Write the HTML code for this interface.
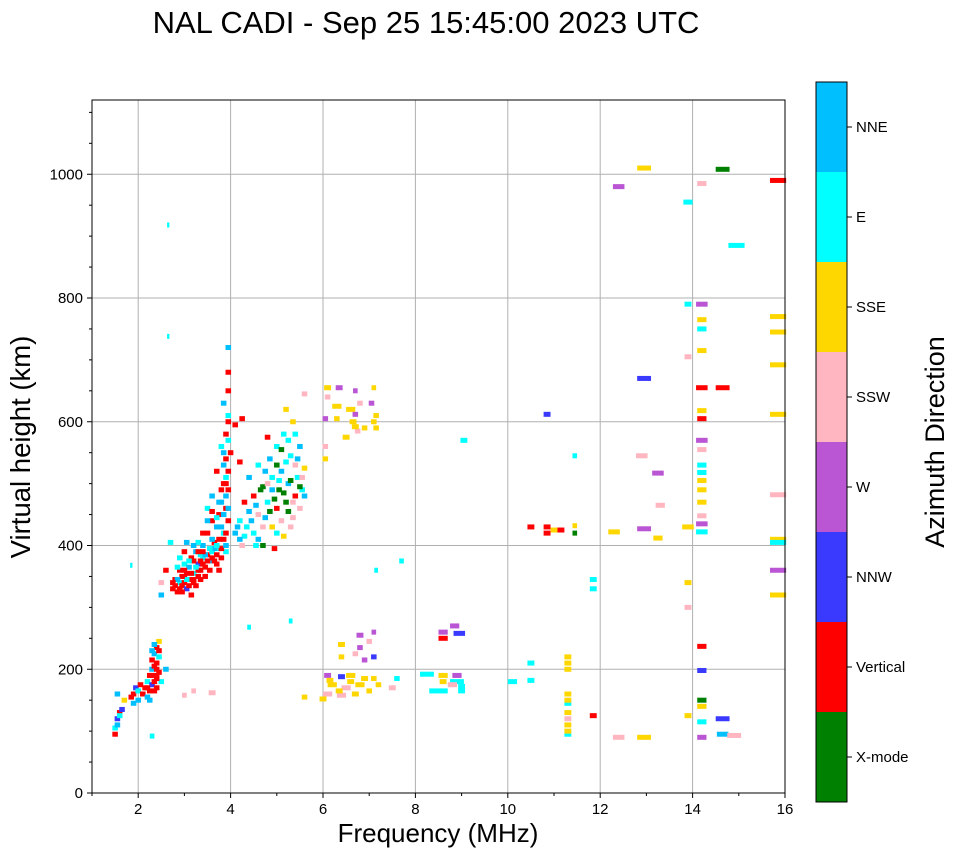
<!DOCTYPE html>
<html><head><meta charset="utf-8"><style>
body{margin:0;background:#fff;font-family:"Liberation Sans",sans-serif}
</style></head><body>
<svg id="chart" width="958" height="857" xmlns="http://www.w3.org/2000/svg" font-family="Liberation Sans, sans-serif">
<text x="426" y="33" font-size="31" text-anchor="middle">NAL CADI - Sep 25 15:45:00 2023 UTC</text>
<g id="grid"></g>
<g id="marks"></g>
<rect x="92" y="100" width="693" height="693" fill="none" stroke="#000" stroke-width="1"/>
<g id="ticks" font-size="15"></g>
<text x="438" y="842" font-size="26" text-anchor="middle">Frequency (MHz)</text>
<text transform="translate(30,447) rotate(-90)" font-size="27.5" text-anchor="middle">Virtual height (km)</text>
<g id="cbar" font-size="15"></g>
<text transform="translate(944,442) rotate(-90)" font-size="27" text-anchor="middle">Azimuth Direction</text>
</svg>
<script>
const dirLabels=["X-mode","Vertical","NNW","W","SSW","SSE","E","NNE"];
const dirColors=["#008000","#ff0000","#3a3aff","#ba55d3","#ffb6c1","#ffd700","#00ffff","#00bfff"];
const xTicks=[2,4,6,8,10,12,14,16];
const yTicks=[0,200,400,600,800,1000];
const lowTrace=[[1.5,95,1],[1.5,105,6],[1.55,120,2],[1.6,130,1],[1.65,135,2],[1.55,160,7],[1.7,150,5],[1.9,145,7],[1.9,160,1],[1.95,170,2],[2.0,165,6],[2.05,175,1],[2.1,160,1],[2.15,170,1],[2.2,155,7],[2.2,180,6],[2.25,190,1],[2.3,200,7],[2.3,215,1],[2.35,225,7],[2.4,235,1],[2.4,210,1],[2.3,175,2],[2.35,165,1],[2.25,150,7],[2.45,245,5],[2.45,195,1],[2.2,170,1],[2.5,180,6],[2.6,200,7],[2.4,185,1],[2.35,205,1],[2.45,220,6],[2.4,190,1],[2.3,190,1],[2.35,180,1],[2.4,200,1],[2.3,230,7],[2.4,170,1],[2.25,165,1],[2.35,240,7],[2.45,230,1],[1.55,110,7],[1.6,125,6],[1.85,155,1],[2.0,150,7]];
const fTrace=[[2.5,320,7],[2.5,340,4],[2.6,360,1],[2.75,330,1],[2.8,345,1],[2.85,325,1],[2.9,340,6],[2.9,360,1],[2.95,335,1],[3.0,350,1],[3.0,370,6],[3.05,330,2],[3.1,345,1],[3.1,365,7],[3.15,380,1],[3.2,340,1],[3.2,355,6],[3.25,390,7],[3.3,350,1],[3.3,370,2],[3.35,360,1],[3.4,380,6],[3.4,400,7],[3.45,365,1],[3.5,385,1],[3.5,420,1],[3.55,375,7],[3.6,390,6],[3.6,440,1],[3.65,405,1],[3.7,370,1],[3.7,430,7],[3.75,450,1],[3.75,395,6],[3.8,470,7],[3.8,380,1],[3.85,500,1],[3.85,420,6],[3.9,540,1],[3.9,390,6],[3.9,480,7],[3.95,520,1],[3.95,570,6],[3.95,600,1],[3.85,630,7],[3.95,680,1],[3.95,720,7],[3.7,520,1],[3.6,480,7],[3.5,460,6],[3.4,420,1],[3.3,405,6],[3.2,400,7],[3.0,390,1],[2.9,380,6],[3.05,405,7],[3.15,320,1],[2.7,405,6],[4.0,550,1],[3.8,560,6],[3.9,460,1],[2.85,365,6],[2.95,325,1],[3.25,335,1],[3.45,350,1],[3.65,375,1],[3.85,410,1],[3.95,440,1],[3.05,355,1],[3.35,385,6],[3.75,360,1]];
const fDense=[[2.8,335,1],[2.9,330,1],[3.0,340,1],[3.1,335,1],[3.2,345,1],[3.3,360,1],[3.4,370,1],[3.5,375,1],[3.6,380,1],[3.7,385,1],[3.8,395,1],[3.9,400,7],[3.85,450,7],[3.9,500,1],[3.85,530,7],[3.9,510,6],[3.95,490,1],[3.8,430,7],[3.75,410,1],[3.65,395,7],[3.55,395,6],[3.45,385,7],[3.35,375,1],[3.25,365,6],[3.15,355,1],[3.05,345,6],[2.95,350,1],[2.85,345,7],[2.75,340,1],[3.0,360,1],[3.2,375,1],[3.4,390,1],[3.6,410,7],[3.7,445,6],[3.8,490,1],[3.9,580,1],[3.95,610,6],[3.95,650,1],[3.85,550,7],[3.75,470,7],[3.6,455,1],[3.5,440,7],[3.3,390,1],[3.1,375,6],[3.95,460,7],[3.9,420,1],[3.7,400,6],[3.55,360,1],[3.35,345,1]];
const fSpread=[[4.1,595,1],[4.2,535,1],[4.25,605,1],[4.1,420,7],[4.2,440,6],[4.25,400,4],[4.3,470,1],[4.35,430,6],[4.4,510,7],[4.5,480,1],[4.5,420,6],[4.6,450,4],[4.6,530,6],[4.7,495,0],[4.7,400,0],[4.8,470,6],[4.8,575,1],[4.85,540,7],[4.9,430,5],[4.9,510,6],[5.0,560,6],[5.0,460,1],[5.05,490,0],[5.1,520,7],[5.1,440,4],[5.15,580,6],[5.2,470,0],[5.25,500,7],[5.3,545,6],[5.3,430,4],[5.35,600,5],[5.4,480,1],[5.45,510,6],[5.5,460,4],[5.5,560,7],[5.55,490,6],[5.6,525,5],[5.2,620,5],[5.6,645,4],[4.95,395,1],[5.0,420,6],[4.6,410,7],[4.4,455,7],[5.25,455,0],[5.4,530,4],[4.75,445,7],
[4.15,430,7],[4.3,415,6],[4.45,440,7],[4.55,465,7],[4.65,490,0],[4.75,520,7],[4.85,455,0],[4.95,475,0],[5.05,505,6],[5.15,485,0],[5.2,535,6],[5.3,505,0],[5.35,470,4],[5.45,540,7],[5.55,510,4],[5.6,480,7],[5.1,555,0],[5.25,570,6],[5.4,580,6],[5.0,530,0],[4.9,490,7],[4.8,500,4],[4.7,430,4],[5.15,415,5],[5.35,445,4],[5.5,495,0],[4.55,400,6],[4.2,410,7]];
const mid6=[[6.1,655,5,0.15],[6.35,655,3,0.15],[6.7,650,3,0.1],[7.1,655,5,0.1],[6.1,640,4],[6.3,625,5,0.2],[6.6,620,5,0.2],[6.8,630,4],[7.05,630,3],[6.05,605,3],[6.3,605,5],[6.65,600,5,0.15],[7.1,600,5],[7.15,590,5],[6.9,590,5],[6.5,575,5,0.15],[6.05,560,4],[6.05,540,5],[6.75,585,4],[6.7,592,5,0.15],[7.15,610,5],[6.7,612,3],
[6.4,240,5,0.15],[6.8,255,3,0.15],[7.1,260,3,0.1],[6.8,235,3],[7.0,245,4],[6.4,220,5],[6.7,225,4],[7.1,220,2],[6.9,215,3],[6.1,190,3,0.15],[6.4,188,2,0.15],[6.6,190,5,0.2],[6.9,185,5,0.15],[7.2,175,5],[6.2,175,5,0.2],[6.5,170,4,0.2],[6.8,175,5,0.2],[7.0,165,5],[6.1,160,4,0.2],[6.4,158,4,0.2],[6.7,160,5,0.15],[7.5,170,4,0.15],[6.0,152,5,0.15],[5.6,155,5],[7.6,185,6],[6.15,182,5,0.15],[6.6,180,5,0.15],[7.1,185,5],[6.35,165,5,0.15]];
const mid8=[[8.25,192,6,0.3],[8.6,190,5,0.2],[8.9,190,3,0.2],[8.6,180,5,0.15],[8.9,180,6,0.3],[8.5,165,6,0.4],[9.0,165,6,0.15],[8.6,260,3,0.2],[8.6,250,1,0.2],[8.85,270,3,0.2],[8.95,258,2,0.25],[8.8,175,4,0.2],[9.0,172,6,0.15]];
const highFreq=[[10.1,180,6,0.2],[10.5,210,6,0.15],[10.5,182,6,0.15],[10.5,430,1,0.15],[10.85,430,1,0.15],[10.85,420,1,0.15],[11.0,425,5,0.15],[11.15,425,1,0.15],[11.45,420,0,0.1],[11.45,432,5,0.1],[11.3,220,5,0.15],[11.3,200,5,0.15],[11.3,160,5,0.15],[11.3,130,5,0.15],[11.3,110,5,0.15],[11.3,95,6,0.15],[11.3,145,6,0.15],[11.3,120,4,0.15],[11.3,210,5,0.15],[11.3,150,5,0.15],[11.3,100,5,0.15],[11.45,545,6,0.1],[10.85,612,2,0.15],[9.05,570,6,0.15],[11.85,345,6,0.15],[11.85,330,6,0.15],[11.85,125,1,0.15],[12.4,980,3,0.25],[12.95,1010,5,0.3],[12.4,90,4,0.25],[12.95,90,5,0.3],[12.3,422,5,0.25],[12.95,427,3,0.3],[13.25,412,5,0.2],[12.95,670,2,0.3],[12.9,545,4,0.25],[13.25,517,3,0.25],[13.3,465,4,0.2],[13.9,955,6,0.2],[13.9,790,6,0.15],[13.9,705,4,0.15],[13.9,430,5,0.25],[13.9,340,5,0.15],[13.9,300,4,0.15],[13.9,125,5,0.15],[14.2,985,4,0.2],[14.2,790,3,0.25],[14.2,765,5,0.2],[14.2,750,6,0.2],[14.2,715,5,0.2],[14.2,655,1,0.25],[14.2,618,5,0.2],[14.2,605,1,0.2],[14.2,570,3,0.25],[14.2,555,4,0.2],[14.2,530,6,0.2],[14.2,518,6,0.2],[14.2,505,5,0.2],[14.2,490,5,0.2],[14.2,470,5,0.2],[14.2,448,4,0.2],[14.2,435,3,0.25],[14.2,422,6,0.25],[14.2,237,1,0.2],[14.2,198,2,0.2],[14.2,150,0,0.2],[14.2,140,5,0.2],[14.2,115,6,0.2],[14.2,90,3,0.2],[14.65,1008,0,0.3],[14.65,655,1,0.3],[14.65,120,2,0.3],[14.65,95,7,0.25],[14.9,93,4,0.3],[14.95,885,6,0.35],[15.85,990,1,0.35],[15.85,770,5,0.35],[15.85,745,5,0.35],[15.85,692,5,0.35],[15.85,612,5,0.35],[15.85,482,4,0.35],[15.85,410,5,0.35],[15.85,405,6,0.35],[15.85,360,3,0.35],[15.85,320,5,0.35],[2.65,918,6,0.05],[2.65,738,6,0.05],[1.85,368,6,0.05],[4.4,268,6,0.08],[5.3,278,6,0.08],[7.7,375,6,0.1],[7.15,360,6,0.08],[3.2,165,4,0.1],[3.6,162,4,0.15],[3.0,158,4,0.1],[2.3,92,6,0.1]];

const NS="http://www.w3.org/2000/svg";
const X0=92,X1=785,Y0=793,Y1=100,XMIN=1,XMAX=16,YMIN=0,YMAX=1120;
function xs(f){return X0+(f-XMIN)/(XMAX-XMIN)*(X1-X0);}
function ys(h){return Y0-(h-YMIN)/(YMAX-YMIN)*(Y0-Y1);}
function mk(tag,attrs,parent){const e=document.createElementNS(NS,tag);for(const k in attrs)e.setAttribute(k,attrs[k]);parent.appendChild(e);return e;}
const grid=document.getElementById('grid'),ticks=document.getElementById('ticks'),marks=document.getElementById('marks'),cbar=document.getElementById('cbar');
xTicks.forEach(v=>{const x=xs(v);
 const g=mk('line',{x1:x,x2:x,y1:Y1,y2:Y0,stroke:'#b0b0b0','stroke-width':1},grid);
 
 
 mk('line',{x1:x,x2:x,y1:Y0,y2:Y0+5,stroke:'#000'},ticks);
 const t=mk('text',{x:x,y:Y0+21,'text-anchor':'middle'},ticks);t.textContent=v;
 
 });
for(let v=1;v<=15;v+=2){const x=xs(v);mk('line',{x1:x,x2:x,y1:Y0,y2:Y0+3,stroke:'#000'},ticks);}
yTicks.forEach(v=>{const y=ys(v);
 const g=mk('line',{x1:X0,x2:X1,y1:y,y2:y,stroke:'#b0b0b0','stroke-width':1},grid);
 
 
 mk('line',{x1:X0-5,x2:X0,y1:y,y2:y,stroke:'#000'},ticks);
 const t=mk('text',{x:X0-9,y:y+5,'text-anchor':'end'},ticks);t.textContent=v;
 
 });
for(let v=50;v<=1100;v+=50){if(v%200){const y=ys(v);mk('line',{x1:X0-3,x2:X0,y1:y,y2:y,stroke:'#000'},ticks);}}
[lowTrace,fTrace,fDense,fSpread,mid6,mid8,highFreq].forEach(arr=>arr.forEach(p=>{
 const w=(p[3]||0.12);const x=xs(p[0]-w/2),x2=xs(p[0]+w/2);
 const r=mk('rect',{x:x,y:ys(p[1])-2.5,width:Math.max(2,x2-x),height:5,fill:dirColors[p[2]]},marks);
 
 }));
const CB0=82,CBH=720,seg=CBH/8;
dirLabels.forEach((lab,i)=>{const y=CB0+CBH-(i+1)*seg;
 const r=mk('rect',{x:816,y:y,width:31,height:seg,fill:dirColors[i]},cbar);
 
 
 mk('line',{x1:847,x2:852,y1:y+seg/2,y2:y+seg/2,stroke:'#000'},cbar);
 const t=mk('text',{x:856,y:y+seg/2+5},cbar);t.textContent=lab;
 
 });
mk('rect',{x:816,y:CB0,width:31,height:CBH,fill:'none',stroke:'#000'},cbar);
</script>
</body></html>
